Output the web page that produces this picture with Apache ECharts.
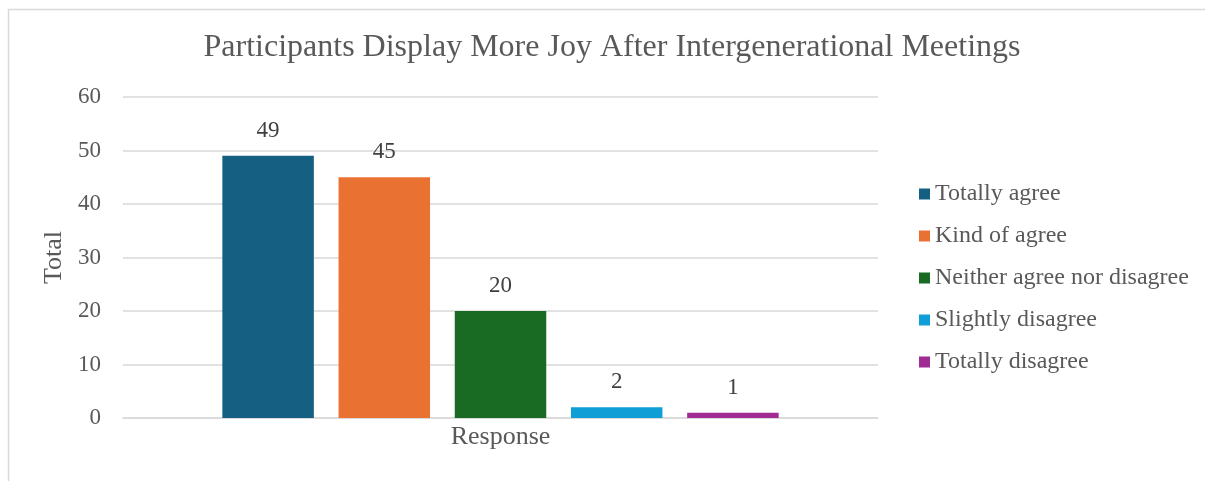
<!DOCTYPE html>
<html>
<head>
<meta charset="utf-8">
<script src="https://cdn.jsdelivr.net/npm/echarts@6/dist/echarts.min.js"></script>
<style>html,body{margin:0;padding:0;background:#fff}#c{width:1205px;height:481px}</style>
</head>
<body>
<div id="c"></div>
<script>
const categories = ['Response'];
const seriesNames = ['Totally agree', 'Kind of agree', 'Neither agree nor disagree', 'Slightly disagree', 'Totally disagree'];
const seriesValues = [[49], [45], [20], [2], [1]];
const seriesColors = ['#156082', '#E97132', '#196B24', '#0F9ED5', '#A02B93'];
const yTicks = [0, 10, 20, 30, 40, 50, 60];

const font = 'Liberation Serif, Times New Roman, serif';
const chart = echarts.init(document.getElementById('c'));
chart.setOption({
  animation: false,
  backgroundColor: '#fff',
  graphic: [{
    type: 'rect', silent: true, z: -10,
    shape: { x: 8.5, y: 9.5, width: 1400, height: 700 },
    style: { fill: 'none', stroke: '#d9d9d9', lineWidth: 1.5 }
  }],
  title: {
    text: 'Participants Display More Joy After Intergenerational Meetings',
    left: 607, top: 27, textAlign: 'center',
    textStyle: { fontFamily: font, fontSize: 32, fontWeight: 'normal', color: '#595959' }
  },
  legend: {
    orient: 'vertical', left: 919, top: 182, itemGap: 18, padding: 0,
    itemWidth: 11, itemHeight: 11, icon: 'rect',
    textStyle: { fontFamily: font, fontSize: 24, color: '#595959' },
    data: seriesNames
  },
  grid: { left: 123, right: 327, top: 97, bottom: 63, containLabel: false },
  xAxis: {
    type: 'category', data: categories,
    axisLine: { lineStyle: { color: '#d9d9d9', width: 1.5 } },
    axisTick: { show: false },
    axisLabel: { show: true, fontFamily: font, fontSize: 26, color: '#595959', margin: 6 },
  },
  yAxis: {
    type: 'value', min: yTicks[0], max: yTicks[yTicks.length - 1], interval: 10,
    name: 'Total', nameLocation: 'middle', nameGap: 52, nameRotate: 90,
    nameTextStyle: { fontFamily: font, fontSize: 26, color: '#595959' },
    axisLine: { show: false }, axisTick: { show: false },
    axisLabel: { fontFamily: font, fontSize: 23, color: '#595959', margin: 22 },
    splitLine: { lineStyle: { color: '#d9d9d9', width: 1.5 } }
  },
  series: seriesNames.map((n, i) => ({
    name: n, type: 'bar', data: seriesValues[i], barWidth: 91.5, barGap: '27%',
    itemStyle: { color: seriesColors[i] },
    label: { show: true, position: 'top', distance: 13.5, fontFamily: font, fontSize: 23, color: '#404040' }
  }))
});
</script>
</body>
</html>
